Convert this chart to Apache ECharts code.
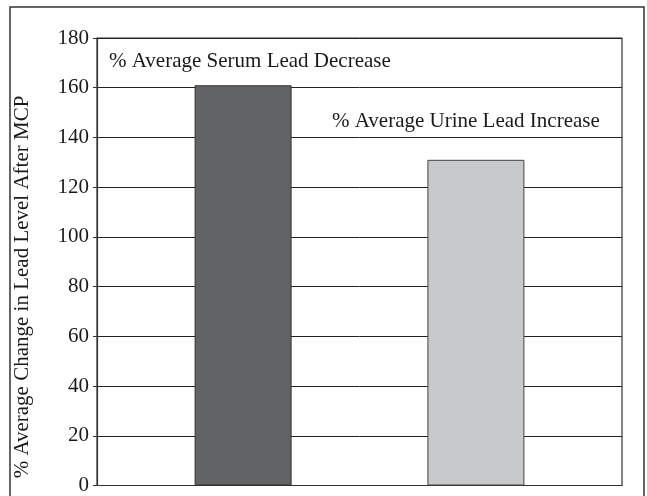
<!DOCTYPE html>
<html>
<head>
<meta charset="utf-8">
<script src="https://cdn.jsdelivr.net/npm/echarts@6/dist/echarts.min.js"></script>
<style>html,body{margin:0;padding:0;background:#fff}#c{width:647px;height:496px}</style>
</head>
<body>
<div id="c"></div>
<script>
var categories = [''];
var serumDecrease = [161];
var urineIncrease = [131];
var yTicks = [0, 20, 40, 60, 80, 100, 120, 140, 160, 180];
var seriesNames = ['% Average Serum Lead Decrease', '% Average Urine Lead Increase'];
var yTitle = '% Average Change in Lead Level After MCP';

var font = '"Liberation Serif", "DejaVu Serif", serif';
var chart = echarts.init(document.getElementById('c'), null, {renderer: 'canvas'});
chart.setOption({
  animation: false,
  backgroundColor: '#fff',
  grid: {left: 97, right: 25, top: 38, bottom: 5, show: true, borderColor: '#333', borderWidth: 1.2, backgroundColor: 'transparent'},
  xAxis: {
    type: 'category', data: categories,
    axisLine: {show: true, lineStyle: {color: '#333', width: 1.2}},
    axisTick: {show: false}, axisLabel: {show: false}
  },
  yAxis: {
    type: 'value', min: yTicks[0], max: yTicks[yTicks.length - 1], interval: 20,
    axisLine: {show: true, lineStyle: {color: '#333', width: 1.2}},
    axisTick: {show: true, inside: false, length: 4, lineStyle: {color: '#333'}},
    axisLabel: {fontFamily: font, fontSize: 21, color: '#1a1a1a', margin: 8},
    splitLine: {show: true, lineStyle: {color: '#222', width: 1}}
  },
  series: [
    {name: seriesNames[0], type: 'bar', data: serumDecrease, barWidth: 97, barGap: '140%',
     itemStyle: {color: '#626364', borderColor: '#333', borderWidth: 1}},
    {name: seriesNames[1], type: 'bar', data: urineIncrease, barWidth: 97,
     itemStyle: {color: '#c8c9ca', borderColor: '#444', borderWidth: 1}}
  ],
  graphic: [
    {type: 'rect', shape: {x: 10, y: 7, width: 634, height: 500}, style: {fill: 'none', stroke: '#333', lineWidth: 1.5}, silent: true},
    {type: 'text', left: 109, top: 51, style: {text: seriesNames[0], fontFamily: font, fontSize: 21, fill: '#1a1a1a'}},
    {type: 'text', left: 332, top: 111, style: {text: seriesNames[1], fontFamily: font, fontSize: 21, fill: '#1a1a1a'}},
    {type: 'text', x: 22, y: 287, rotation: Math.PI / 2,
     style: {text: yTitle, fontFamily: font, fontSize: 21, fill: '#1a1a1a', align: 'center', verticalAlign: 'middle'}}
  ]
});
</script>
</body>
</html>
